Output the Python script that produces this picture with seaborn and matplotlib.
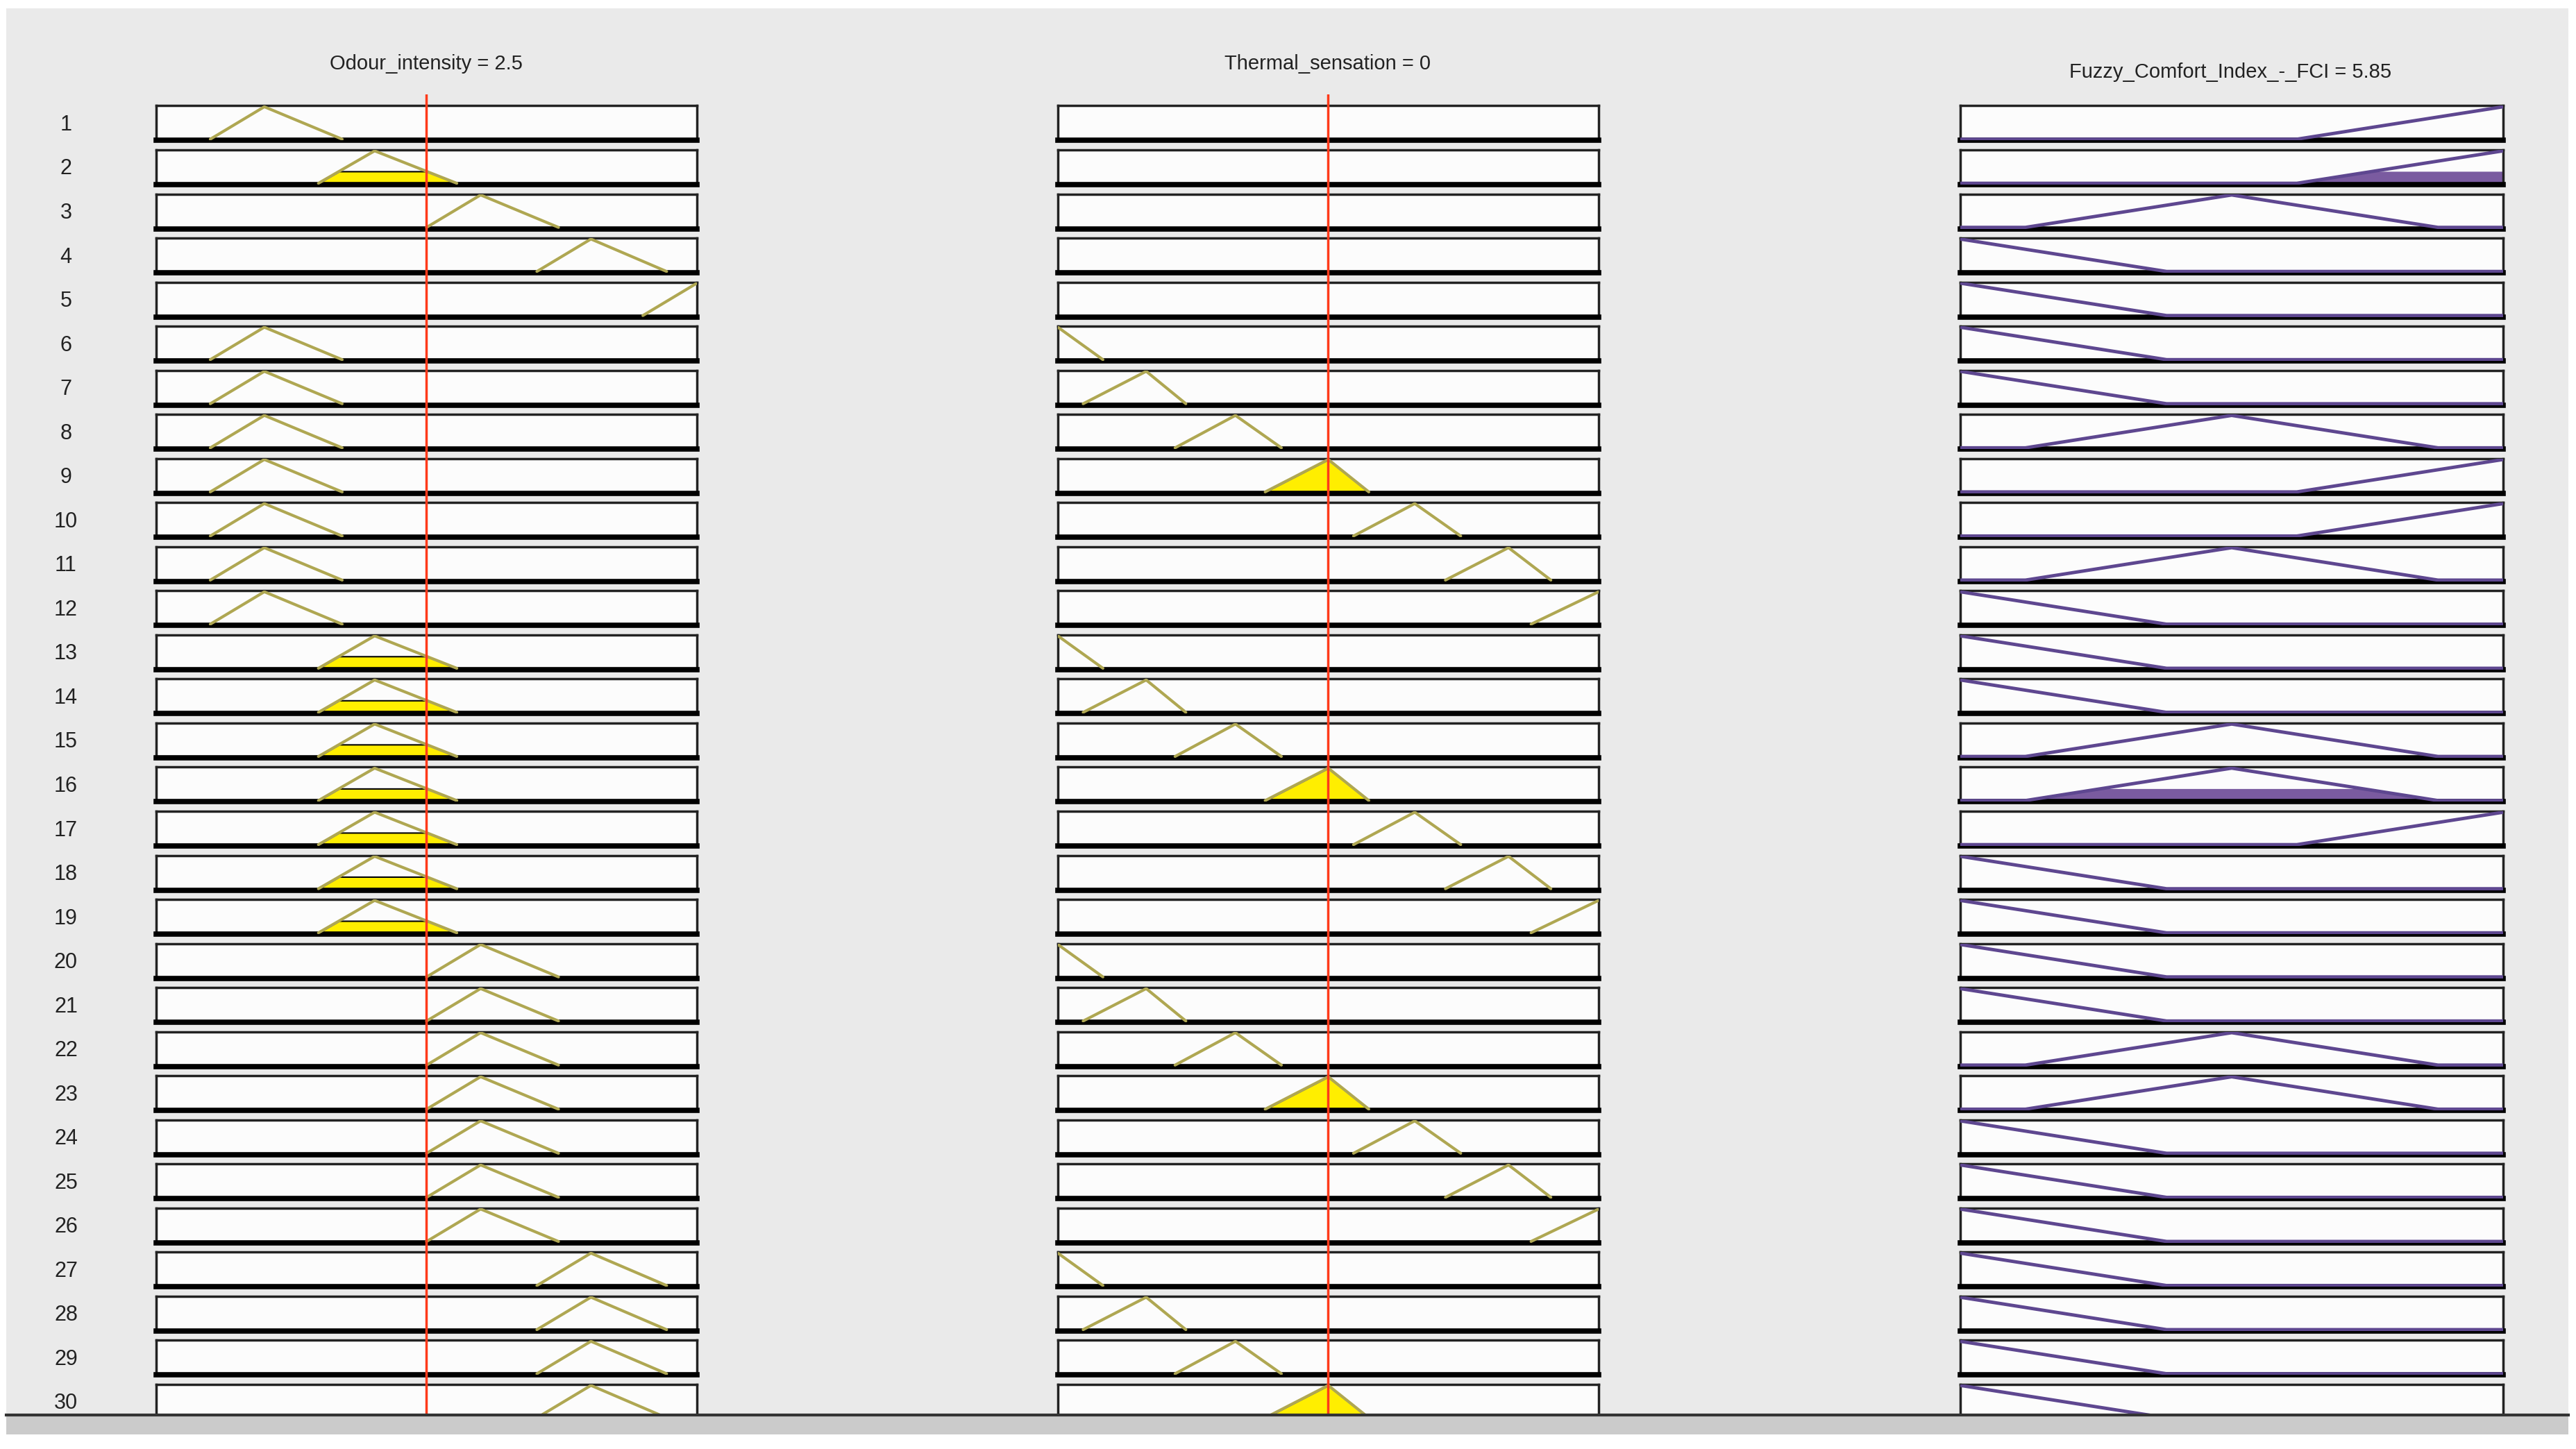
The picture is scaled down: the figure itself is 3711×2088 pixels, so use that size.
import numpy as np
import pandas as pd
import matplotlib
matplotlib.use("Agg")
import matplotlib.pyplot as plt
from matplotlib.patches import Rectangle
import seaborn as sns

odour_value = 2.5
thermal_value = 0
fci_value = 5.85

odour_range = [0, 5]
thermal_range = [-3, 3]
fci_range = [0, 10]

# triangular MFs [a, b, c]
odour_mfs = [[0.5, 1.0, 1.72], [1.5, 2.02, 2.78], [2.5, 3.0, 3.72],
             [3.52, 4.02, 4.72], [4.5, 5.0, 5.5]]
thermal_mfs = [[-3.0, -3.0, -2.5], [-2.72, -2.02, -1.58], [-1.7, -1.03, -0.52],
               [-0.7, 0.0, 0.45], [0.28, 0.96, 1.47], [1.3, 2.0, 2.47],
               [2.25, 3.0, 3.0]]
fci_mfs = [[0.0, 0.0, 3.8], [1.2, 5.0, 8.8], [6.2, 10.0, 10.0]]

# rule table: index of MF per column (0 = not used)
rule_odour = [1, 2, 3, 4, 5, 1, 1, 1, 1, 1, 1, 1, 2, 2, 2, 2, 2, 2, 2,
              3, 3, 3, 3, 3, 3, 3, 4, 4, 4, 4]
rule_thermal = [0, 0, 0, 0, 0, 1, 2, 3, 4, 5, 6, 7, 1, 2, 3, 4, 5, 6, 7,
                1, 2, 3, 4, 5, 6, 7, 1, 2, 3, 4]
rule_fci = [3, 3, 2, 1, 1, 1, 1, 2, 3, 3, 2, 1, 1, 1, 2, 2, 3, 1, 1,
            1, 1, 2, 2, 1, 1, 1, 1, 1, 1, 1]

titles = ["Odour_intensity = 2.5", "Thermal_sensation = 0",
          "Fuzzy_Comfort_Index_-_FCI = 5.85"]

# ---- styling ----
W, H = 3712, 2089
BG = "#EAEAEA"
IN_LINE = "#AFA752"
IN_FILL = "#FFEE00"
OUT_LINE = "#5E4790"
OUT_FILL = "#7A5BA0"
RED = "#FF3A1A"

sns.set_style("white")
plt.rcParams["font.family"] = ["Liberation Sans Narrow", "Liberation Sans", "DejaVu Sans"]


def fx(px):
    return px / W


def fy(py):
    return 1 - py / H


def mf_points(p):
    a, b, c = p
    xs, ys = [], []
    if a < b:
        xs.append(a); ys.append(0)
    xs.append(b); ys.append(1)
    if c > b:
        xs.append(c); ys.append(0)
    return xs, ys


def mf_eval(p, x):
    a, b, c = p
    x = np.asarray(x, dtype=float)
    left = np.ones_like(x) if a == b else (x - a) / (b - a)
    right = np.ones_like(x) if c == b else (c - x) / (c - b)
    return np.clip(np.minimum(left, right), 0, 1)


def box_style(ax, xr):
    ax.set_xlim(xr)
    ax.set_ylim(-0.04, 1.03)
    ax.set_facecolor("#FCFCFC")
    ax.set_xticks([])
    ax.set_yticks([])
    for s in ["top", "left", "right"]:
        ax.spines[s].set_linewidth(2.5)
        ax.spines[s].set_color("#222222")
    ax.spines["bottom"].set_linewidth(5.5)
    ax.spines["bottom"].set_color("black")


fig = plt.figure(figsize=(W / 100, 20.885), dpi=100, facecolor="white")
bg = fig.add_axes([fx(9), fy(2040), fx(3700 - 9), (2040 - 13) / H], zorder=-10)
bg.set_facecolor(BG)
bg.axis("off")
bg.add_patch(Rectangle((0, 0), 1, 1, transform=bg.transAxes, facecolor=BG,
                       edgecolor="none"))

col_x = [(225, 1004), (1524, 2303), (2824, 3606)]
row_top0 = 153
row_step = 63.55
row_h = 50
title_y = [92, 92, 104]
title_cx = [614, 1913, 3213]

for ci, (x0, x1) in enumerate(col_x):
    fig.text(fx(title_cx[ci]), fy(title_y[ci]), titles[ci], ha="center",
             va="center", fontsize=21, color="#222222")

for r in range(30):
    top = row_top0 + r * row_step
    fig.text(fx(95), fy(top + row_h / 2 + 2), str(r + 1), ha="center",
             va="center", fontsize=22, color="#222222")

    # odour column
    ax = fig.add_axes([fx(col_x[0][0]), fy(top + row_h),
                       fx(col_x[0][1] - col_x[0][0]), row_h / H])
    box_style(ax, odour_range)
    mu_o = 1.0
    if rule_odour[r]:
        p = odour_mfs[rule_odour[r] - 1]
        mu_o = float(mf_eval(p, odour_value))
        if mu_o > 0:
            xs = np.linspace(p[0], p[2], 200)
            ax.fill_between(xs, 0, np.minimum(mf_eval(p, xs), mu_o),
                            color=IN_FILL, edgecolor="black", lw=1.5, zorder=2)
        px, py = mf_points(p)
        sns.lineplot(x=px, y=py, ax=ax, color=IN_LINE, lw=3, sort=False,
                     estimator=None, zorder=3)

    # thermal column
    ax = fig.add_axes([fx(col_x[1][0]), fy(top + row_h),
                       fx(col_x[1][1] - col_x[1][0]), row_h / H])
    box_style(ax, thermal_range)
    mu_t = 1.0
    if rule_thermal[r]:
        p = thermal_mfs[rule_thermal[r] - 1]
        mu_t = float(mf_eval(p, thermal_value))
        if mu_t > 0:
            xs = np.linspace(p[0], p[2], 200)
            ax.fill_between(xs, 0, np.minimum(mf_eval(p, xs), mu_t),
                            color=IN_FILL, edgecolor="black", lw=1.5, zorder=2)
        px, py = mf_points(p)
        sns.lineplot(x=px, y=py, ax=ax, color=IN_LINE, lw=3, sort=False,
                     estimator=None, zorder=3)

    # output column
    ax = fig.add_axes([fx(col_x[2][0]), fy(top + row_h),
                       fx(col_x[2][1] - col_x[2][0]), row_h / H])
    box_style(ax, fci_range)
    p = fci_mfs[rule_fci[r] - 1]
    strength = min(mu_o, mu_t)
    xs = np.linspace(fci_range[0], fci_range[1], 400)
    ys = mf_eval(p, xs)
    if strength > 0:
        ax.fill_between(xs, 0, np.minimum(ys, strength), color=OUT_FILL,
                        lw=0, zorder=2)
    out = pd.DataFrame({"x": [fci_range[0]] + mf_points(p)[0] + [fci_range[1]],
                        "y": [mf_eval(p, fci_range[0])] + mf_points(p)[1]
                        + [mf_eval(p, fci_range[1])]})
    sns.lineplot(data=out, x="x", y="y", ax=ax, color=OUT_LINE, lw=3.5,
                 sort=False, estimator=None, zorder=3)

# red input markers spanning the input columns
for ci, (xr, val) in enumerate([(odour_range, odour_value),
                                (thermal_range, thermal_value)]):
    ov = fig.add_axes([fx(col_x[ci][0]), fy(2040), fx(col_x[ci][1] - col_x[ci][0]),
                       (2040 - 137) / H], zorder=5)
    ov.set_xlim(xr)
    ov.set_ylim(0, 1)
    ov.axis("off")
    ov.patch.set_alpha(0)
    ov.axvline(val, color=RED, lw=2.5)

# bottom strip of the window
strip = fig.add_axes([fx(9), fy(2068), fx(3700 - 9), 28 / H], zorder=10)
strip.set_facecolor("#CBCBCB")
strip.set_xticks([])
strip.set_yticks([])
for s in ["left", "right", "bottom"]:
    strip.spines[s].set_visible(False)
strip.spines["top"].set_linewidth(3)
strip.spines["top"].set_color("#333333")

fig.savefig("out.png", dpi=100, facecolor="white")
